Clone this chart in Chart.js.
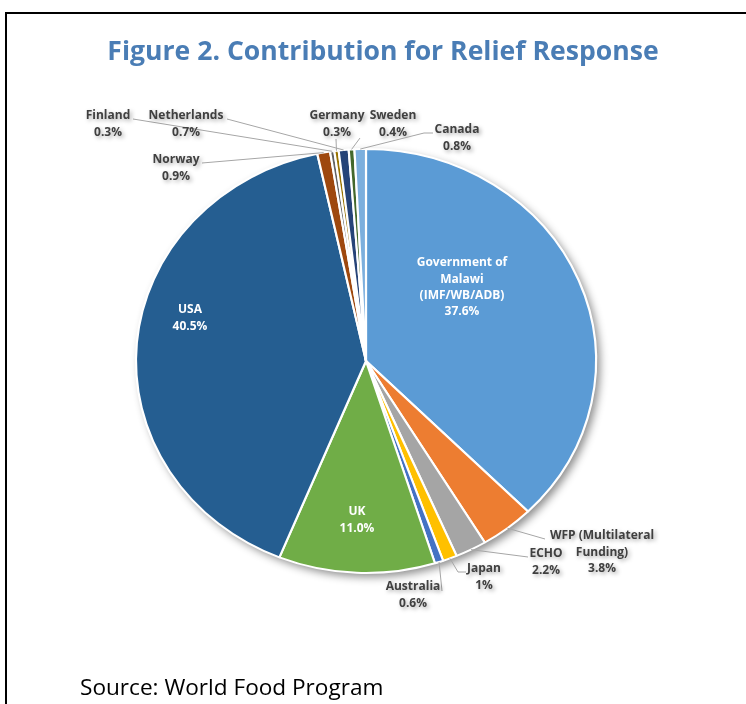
<!DOCTYPE html>
<html>
<head>
<meta charset="utf-8">
<script src="https://cdn.jsdelivr.net/npm/chart.js@4"></script>
<style>
    body { margin: 0; background: #fff; }
    #wrap { position: relative; width: 746px; height: 704px; overflow: hidden; }
    #frame-top { position: absolute; left: 5px; top: 12px; width: 741px; height: 2px; background: #000; }
    #frame-left { position: absolute; left: 5px; top: 12px; width: 2px; height: 692px; background: #000; }
    #title { position: absolute; left: 83px; width: 600px; top: 33px; line-height: 34px; text-align: center;
        font-family: 'Open Sans', sans-serif; font-weight: bold; font-size: 26.6px; color: #4a7db5; white-space: nowrap; }
    #source { position: absolute; left: 80px; top: 671px; font-family: 'Open Sans', sans-serif; font-size: 22.6px; color: #000; }
    canvas { position: absolute; left: 0; top: 0; }
</style>
</head>
<body>
<div id="wrap">
    <canvas id="myChart" width="746" height="704"></canvas>
    <div id="frame-top"></div>
    <div id="frame-left"></div>
    <div id="title">Figure 2. Contribution for Relief Response</div>
    <div id="source">Source: World Food Program</div>
</div>
<script>
// categories, in the order the slices run clockwise from 12 o'clock
const categories = [
    ['Government of', 'Malawi', '(IMF/WB/ADB)'],
    ['WFP (Multilateral', 'Funding)'],
    'ECHO', 'Japan', 'Australia', 'UK', 'USA',
    'Norway', 'Finland', 'Germany', 'Netherlands', 'Sweden', 'Canada'
];
const shares = [37.6, 3.8, 2.2, 1, 0.6, 11.0, 40.5, 0.9, 0.3, 0.3, 0.7, 0.4, 0.8];
const shareLabels = ['37.6%', '3.8%', '2.2%', '1%', '0.6%', '11.0%', '40.5%', '0.9%', '0.3%', '0.3%', '0.7%', '0.4%', '0.8%'];
const sliceColors = ['#5b9bd5', '#ed7d31', '#a5a5a5', '#ffc000', '#4472c4', '#70ad47', '#255e91',
    '#9e480e', '#636363', '#997300', '#264478', '#43682b', '#7cafdd'];

// the original pie is a little wider than it is tall
const stretchX = 1.085;

// where each label sits (centre of first line), whether it is inside, and the leader line start
const labelSpots = [
    { x: 462, y: 263, inside: true },
    { x: 602, y: 536, lead: [[545, 539]] },
    { x: 546, y: 554, lead: [[528, 557]] },
    { x: 484, y: 569, lead: [[466, 572], [458, 572]] },
    { x: 413, y: 587, lead: [[442, 591]] },
    { x: 357, y: 512, inside: true },
    { x: 190, y: 310, inside: true },
    { x: 176, y: 160, lead: [[202, 163]] },
    { x: 108, y: 116, lead: [[133, 119]] },
    { x: 337, y: 116, lead: [[336, 139]] },
    { x: 186, y: 116, lead: [[227, 119]] },
    { x: 393, y: 116, lead: [[360, 138]] },
    { x: 457, y: 130, lead: [[433, 133], [424, 133]] }
];

const ellipsePlugin = {
    id: 'ellipse',
    beforeDatasetsDraw(chart) {
        const arc = chart.getDatasetMeta(0).data[0];
        const ctx = chart.ctx;
        ctx.save();
        // soft shadow under the whole pie
        ctx.save();
        ctx.shadowColor = 'rgba(0,0,0,0.45)';
        ctx.shadowBlur = 9;
        ctx.shadowOffsetX = 4;
        ctx.shadowOffsetY = 4;
        ctx.fillStyle = '#ffffff';
        ctx.beginPath();
        ctx.ellipse(arc.x, arc.y, arc.outerRadius * stretchX, arc.outerRadius, 0, 0, Math.PI * 2);
        ctx.fill();
        ctx.restore();
        ctx.translate(arc.x, arc.y);
        ctx.scale(stretchX, 1);
        ctx.translate(-arc.x, -arc.y);
    },
    afterDatasetsDraw(chart) {
        chart.ctx.restore();
    }
};

const labelPlugin = {
    id: 'sliceLabels',
    afterDraw(chart) {
        const ctx = chart.ctx;
        const arcs = chart.getDatasetMeta(0).data;
        ctx.save();
        ctx.font = 'bold 12px "Open Sans"';
        ctx.textAlign = 'center';
        ctx.textBaseline = 'middle';
        arcs.forEach(function(arc, i) {
            const spot = labelSpots[i];
            const name = Array.isArray(categories[i]) ? categories[i] : [categories[i]];
            const lines = name.concat([shareLabels[i]]);
            if (!spot.inside) {
                const mid = (arc.startAngle + arc.endAngle) / 2;
                const ex = arc.x + Math.cos(mid) * arc.outerRadius * stretchX;
                const ey = arc.y + Math.sin(mid) * arc.outerRadius;
                ctx.strokeStyle = '#a6a6a6';
                ctx.lineWidth = 1;
                ctx.beginPath();
                spot.lead.forEach(function(p, k) {
                    if (k === 0) ctx.moveTo(p[0], p[1]); else ctx.lineTo(p[0], p[1]);
                });
                ctx.lineTo(ex, ey);
                ctx.stroke();
                ctx.shadowColor = 'rgba(0,0,0,0.35)';
                ctx.shadowBlur = 4;
                ctx.shadowOffsetX = 2;
                ctx.shadowOffsetY = 2;
                ctx.fillStyle = '#404040';
            } else {
                ctx.fillStyle = '#ffffff';
            }
            lines.forEach(function(t, k) {
                ctx.fillText(t, spot.x, spot.y + k * 16.3);
            });
            ctx.shadowColor = 'transparent';
            ctx.shadowBlur = 0;
            ctx.shadowOffsetX = 0;
            ctx.shadowOffsetY = 0;
        });
        ctx.restore();
    }
};

document.addEventListener('DOMContentLoaded', function() {
    const ctx = document.getElementById('myChart').getContext('2d');
    const myChart = new Chart(ctx, {
        type: 'pie',
        data: {
            labels: categories,
            datasets: [{
                data: shares,
                backgroundColor: sliceColors,
                borderColor: '#ffffff',
                borderWidth: 2,
                hoverOffset: 0,
                clip: false
            }]
        },
        options: {
            responsive: false,
            animation: false,
            layout: {
                padding: { left: 100, right: 114, top: 148, bottom: 130 }
            },
            plugins: {
                legend: { display: false },
                tooltip: { enabled: false },
                title: { display: false }
            }
        },
        plugins: [ellipsePlugin, labelPlugin]
    });
});
</script>
</body>
</html>
